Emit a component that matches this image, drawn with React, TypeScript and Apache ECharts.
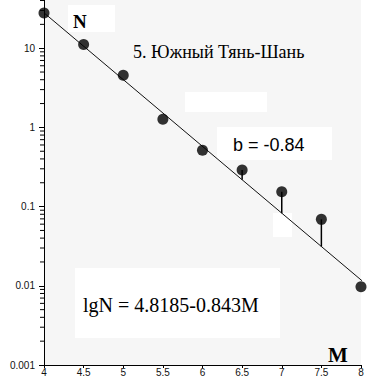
import React, { useEffect, useRef } from "react";
import * as echarts from "echarts";

const magnitudes = [4, 4.5, 5, 5.5, 6, 6.5, 7, 7.5, 8];
const counts = [27.9, 11.1, 4.56, 1.27, 0.516, 0.289, 0.154, 0.069, 0.0097];
const fitIntercept = 4.8185;
const fitSlope = -0.843;
const fitRange = [4, 8.12];
const residualMagnitudes = [6.5, 7, 7.5];
const xTickValues = [4, 4.5, 5, 5.5, 6, 6.5, 7, 7.5, 8];
const minorMultipliers = [2, 3, 4, 5, 6, 7, 8, 9];
const minorDecades = [0.001, 0.01, 0.1, 1, 10];

const fit = (m: number) => Math.pow(10, fitIntercept + fitSlope * m);

export default function App() {
  const ref = useRef<HTMLDivElement>(null);
  useEffect(() => {
    if (!ref.current) return;
    const chart = echarts.init(ref.current, null, { renderer: "svg" });
    const points = magnitudes.map((m, i) => [m, counts[i]]);
    const fitLine = fitRange.map((m) => [m, fit(m)]);
    const stems = residualMagnitudes.map((m) => {
      const i = magnitudes.indexOf(m);
      return [m, counts[i], fit(m)];
    });
    const minorTicks: number[][] = [];
    minorDecades.forEach((d) =>
      minorMultipliers.forEach((k) => minorTicks.push([4, +(d * k).toPrecision(3)]))
    );
    const serif = "'Liberation Serif', 'Times New Roman', serif";
    const sans = "'Liberation Sans', Arial, sans-serif";
    const whiteBoxes = [
      [68, 5, 47, 27],
      [185, 92, 82, 20],
      [217, 127, 115, 33],
      [75, 268, 205, 70],
      [273, 213, 19, 24],
    ];
    chart.setOption({
      animation: false,
      backgroundColor: "#ffffff",
      grid: {
        left: 44,
        right: 9,
        top: -31,
        bottom: 16,
        show: true,
        backgroundColor: "#f6f6f6",
        borderWidth: 0,
        containLabel: false,
        outerBoundsMode: "none",
      },
      xAxis: {
        type: "value",
        min: 4,
        max: 8,
        interval: 0.5,
        axisLine: { show: true, lineStyle: { color: "#000", width: 1 } },
        axisTick: { show: true, length: 3, lineStyle: { color: "#000" } },
        axisLabel: {
          margin: 2,
          fontSize: 10,
          fontFamily: sans,
          color: "#111",
          customValues: xTickValues,
        },
        splitLine: { show: false },
      },
      yAxis: {
        type: "log",
        min: 0.001,
        max: 100,
        logBase: 10,
        axisLine: { show: true, onZero: false, lineStyle: { color: "#000", width: 1 } },
        axisTick: { show: true, length: 5, lineStyle: { color: "#000" } },
        axisLabel: {
          margin: 9,
          fontSize: 10,
          fontFamily: sans,
          color: "#111",
          showMaxLabel: false,
          formatter: (v: number) => String(+v.toPrecision(3)),
        },
        splitLine: { show: false },
      },
      graphic: [
        ...whiteBoxes.map((b) => ({
          type: "rect",
          z: 1,
          silent: true,
          shape: { x: b[0], y: b[1], width: b[2], height: b[3] },
          style: { fill: "#ffffff" },
        })),
        {
          type: "text",
          z: 10,
          x: 73,
          y: 21,
          style: { text: "N", font: `bold 19px ${serif}`, fill: "#000", verticalAlign: "middle" },
        },
        {
          type: "text",
          z: 10,
          x: 133,
          y: 52,
          style: {
            text: "5. Южный Тянь-Шань",
            font: `18px ${serif}`,
            fill: "#000",
            verticalAlign: "middle",
          },
        },
        {
          type: "text",
          z: 10,
          x: 233,
          y: 145,
          style: { text: "b = -0.84", font: `18px ${sans}`, fill: "#000", verticalAlign: "middle" },
        },
        {
          type: "text",
          z: 10,
          x: 83,
          y: 305,
          style: {
            text: "lgN = 4.8185-0.843M",
            font: `20px ${serif}`,
            fill: "#000",
            verticalAlign: "middle",
          },
        },
        {
          type: "text",
          z: 10,
          x: 328,
          y: 355,
          style: { text: "M", font: `bold 21px ${serif}`, fill: "#000", verticalAlign: "middle" },
        },
      ],
      series: [
        {
          type: "custom",
          z: 3,
          silent: true,
          clip: false,
          data: minorTicks,
          renderItem: (params: any, api: any) => {
            const p = api.coord([api.value(0), api.value(1)]);
            return {
              type: "line",
              shape: { x1: p[0] - 4, y1: p[1], x2: p[0], y2: p[1] },
              style: { stroke: "#000", lineWidth: 1 },
            };
          },
        },
        {
          type: "line",
          z: 3,
          data: fitLine,
          clip: false,
          showSymbol: false,
          lineStyle: { color: "#111", width: 1 },
          silent: true,
        },
        {
          type: "custom",
          z: 3,
          silent: true,
          data: stems,
          renderItem: (params: any, api: any) => {
            const p1 = api.coord([api.value(0), api.value(1)]);
            const p2 = api.coord([api.value(0), api.value(2)]);
            return {
              type: "line",
              shape: { x1: p1[0], y1: p1[1], x2: p2[0], y2: p2[1] },
              style: { stroke: "#000", lineWidth: 1.5 },
            };
          },
        },
        {
          type: "scatter",
          z: 4,
          data: points,
          symbol: "circle",
          symbolSize: 11,
          itemStyle: { color: "#000" },
          silent: true,
        },
      ],
    });
    return () => chart.dispose();
  }, []);
  return (
    <div
      ref={ref}
      style={{ position: "absolute", left: 0, top: 0, width: 370, height: 381 }}
    />
  );
}
